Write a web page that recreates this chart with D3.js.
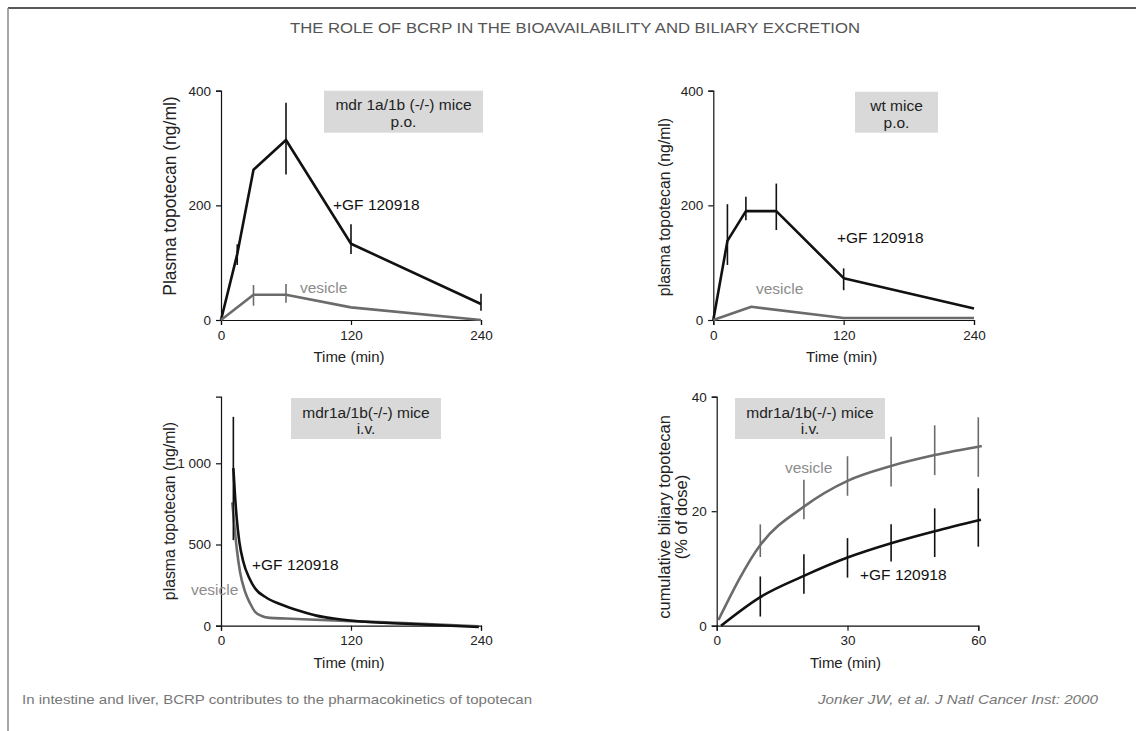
<!DOCTYPE html>
<html lang="en">
<head>
<meta charset="UTF-8">
<title>The role of BCRP</title>
<script src="https://cdn.jsdelivr.net/npm/d3@7"></script>
<style>
    body { margin: 0; background: #fff; }
    text { font-family: "Liberation Sans", Arial, Helvetica, sans-serif; }
    .tick text { font-size: 13.5px; fill: #222; }
    .axis path, .axis line { stroke: #111; }
    .axis-title { font-size: 15px; fill: #222; text-anchor: middle; }
    .box-text { font-size: 15.5px; fill: #222; text-anchor: middle; }
</style>
</head>
<body>
<div id="chart"></div>
<script>
// ---- data ----
// panel A: mdr 1a/1b (-/-) mice, p.o.
const aGfTime = [0, 15, 30, 60, 120, 240];
const aGfConc = [0, 115, 262, 314, 133, 28];
const aGfErrTime = [15, 60, 120, 240];
const aGfErrLo = [96, 254, 115, 16];
const aGfErrHi = [132, 379, 167, 46];
const aVesTime = [0, 30, 60, 120, 240];
const aVesConc = [0, 44, 44, 22, 0];
const aVesErrTime = [30, 60];
const aVesErrLo = [25, 30];
const aVesErrHi = [61, 63];

// panel B: wt mice, p.o.
const bGfTime = [0, 13, 30, 58, 120, 240];
const bGfConc = [0, 138, 190, 190, 73, 20];
const bGfErrTime = [13, 30, 58, 120];
const bGfErrLo = [96, 174, 157, 52];
const bGfErrHi = [202, 215, 238, 90];
const bVesTime = [0, 35, 120, 240];
const bVesConc = [0, 23, 3.5, 3.5];

// panel C: mdr1a/1b(-/-) mice, i.v.
const cGfTime = [11.4, 12.9, 14.5, 16.9, 20.6, 26.2, 31.4, 42, 55, 73, 88, 104, 119, 150, 180, 238];
const cGfConc = [970, 805, 662, 518, 394, 292, 230, 172, 132, 90, 62, 44, 32, 18, 9, -8];
const cGfErrTime = [11.4];
const cGfErrLo = [527];
const cGfErrHi = [1286];
const cVesTime = [10.4, 12.3, 14.5, 17.5, 22.2, 26.8, 31.4, 37.5, 45, 60, 120, 180, 238];
const cVesConc = [760, 620, 477, 333, 210, 138, 86, 60, 48, 44, 28, 14, -4];

// panel D: cumulative biliary excretion, mdr1a/1b(-/-) mice, i.v.
const dVesTime = [0.4, 10, 20, 30, 40, 50, 60.8];
const dVesCum = [1, 14.1, 20.8, 25.3, 27.9, 29.8, 31.4];
const dGfTime = [1, 10, 20, 30, 40, 50, 60.6];
const dGfCum = [0, 5, 8.7, 11.9, 14.4, 16.5, 18.5];
const dErrTime = [10, 20, 30, 40, 50, 60];
const dVesErrLo = [12.0, 18.6, 22.7, 24.3, 26.3, 26.0];
const dVesErrHi = [17.7, 25.5, 29.6, 33.0, 35.0, 36.4];
const dGfErrLo = [1.6, 5.6, 8.4, 11.2, 12.0, 13.8];
const dGfErrHi = [8.6, 12.5, 15.3, 17.7, 20.5, 24.0];

const timeTicks = [0, 120, 240];
const biliaryTimeTicks = [0, 30, 60];
const poTicks = [0, 200, 400];
const ivTicks = [0, 500, 1000];
const biliaryTicks = [0, 20, 40];

const BLACK = "#111";
const GREY = "#6b6b6b";
const GREY_TEXT = "#8c8c8c";

const svg = d3.select("#chart").append("svg")
    .attr("width", 1136)
    .attr("height", 731);

// frame
svg.append("line").attr("x1", 8).attr("y1", 8).attr("x2", 1136).attr("y2", 8)
    .attr("stroke", "#222").attr("stroke-width", 1.5);
svg.append("line").attr("x1", 8).attr("y1", 8).attr("x2", 8).attr("y2", 731)
    .attr("stroke", "#8a8a8a").attr("stroke-width", 1.5);

svg.append("text")
    .attr("x", 575).attr("y", 33)
    .attr("text-anchor", "middle")
    .attr("font-size", 14)
    .attr("fill", "#555")
    .attr("textLength", 570).attr("lengthAdjust", "spacingAndGlyphs")
    .text("THE ROLE OF BCRP IN THE BIOAVAILABILITY AND BILIARY EXCRETION");

svg.append("text")
    .attr("x", 22).attr("y", 704)
    .attr("font-size", 13).attr("fill", "#777")
    .attr("textLength", 510).attr("lengthAdjust", "spacingAndGlyphs")
    .text("In intestine and liver, BCRP contributes to the pharmacokinetics of topotecan");

svg.append("text")
    .attr("x", 1098).attr("y", 704)
    .attr("text-anchor", "end")
    .attr("font-size", 13).attr("fill", "#777")
    .attr("font-style", "italic")
    .attr("textLength", 280).attr("lengthAdjust", "spacingAndGlyphs")
    .text("Jonker JW, et al. J Natl Cancer Inst: 2000");

const zip = (ts, vs) => ts.map((t, i) => [t, vs[i]]);

function drawPanel(p) {
    const x = d3.scaleLinear().domain(p.xDomain).range([p.left, p.right]);
    const y = d3.scaleLinear().domain(p.yDomain).range([p.bottom, p.top]);
    const g = svg.append("g");

    g.append("g").attr("class", "axis")
        .attr("transform", `translate(0,${p.bottom})`)
        .call(d3.axisBottom(x).tickValues(p.xTicks).tickSize(5).tickSizeOuter(5).tickPadding(5));
    g.append("g").attr("class", "axis")
        .attr("transform", `translate(${p.left},0)`)
        .call(d3.axisLeft(y).tickValues(p.yTicks).tickSize(5).tickSizeOuter(5).tickPadding(5)
            .tickFormat(d => d >= 1000 ? d3.format(",")(d).replace(",", " ") : d));
    g.selectAll(".axis path").attr("stroke-width", 1.2);
    g.selectAll(".axis line").attr("stroke-width", 1.2);

    g.append("text").attr("class", "axis-title")
        .attr("x", (p.left + p.right) / 2 - 2).attr("y", p.bottom + 42)
        .text("Time (min)");

    p.yTitle.forEach((t, i) => {
        const tx = p.yTitleX + i * 17;
        g.append("text").attr("class", "axis-title")
            .attr("transform", `translate(${tx},${p.yTitleY}) rotate(-90)`)
            .style("font-size", p.yTitleSize + "px")
            .text(t);
    });

    // label box
    g.append("rect")
        .attr("x", p.box[0]).attr("y", p.box[1])
        .attr("width", p.box[2]).attr("height", p.box[3])
        .attr("fill", "#d9d9d9");
    p.boxText.forEach((t, i) => {
        g.append("text").attr("class", "box-text")
            .attr("x", p.box[0] + p.box[2] / 2)
            .attr("y", p.box[1] + 19.5 + i * 16.5)
            .text(t);
    });

    const line = d3.line().x(d => x(d[0])).y(d => y(d[1])).curve(p.curve);

    p.series.forEach(s => {
        g.append("path")
            .datum(zip(s.time, s.values))
            .attr("fill", "none")
            .attr("stroke", s.color)
            .attr("stroke-width", 2.6)
            .attr("stroke-linejoin", "round")
            .attr("d", line);
        if (s.errTime) {
            g.selectAll(null)
                .data(s.errTime.map((t, i) => [t, s.errLo[i], s.errHi[i]]))
                .join("line")
                .attr("x1", d => x(d[0])).attr("x2", d => x(d[0]))
                .attr("y1", d => y(d[1])).attr("y2", d => y(d[2]))
                .attr("stroke", s.color)
                .attr("stroke-width", 1.6);
        }
        g.append("text")
            .attr("x", s.labelPos[0]).attr("y", s.labelPos[1])
            .attr("font-size", 15.5)
            .attr("fill", s.color === BLACK ? "#111" : GREY_TEXT)
            .text(s.label);
    });
}

drawPanel({
    left: 221, right: 481, top: 90.7, bottom: 320,
    xDomain: [0, 240], yDomain: [0, 400],
    xTicks: timeTicks, yTicks: poTicks,
    yTitle: ["Plasma topotecan (ng/ml)"], yTitleX: 176, yTitleY: 196, yTitleSize: 17.5,
    box: [324, 90.7, 159, 42], boxText: ["mdr 1a/1b (-/-) mice", "p.o."],
    curve: d3.curveLinear,
    series: [
        { time: aGfTime, values: aGfConc, errTime: aGfErrTime, errLo: aGfErrLo, errHi: aGfErrHi,
          color: BLACK, label: "+GF 120918", labelPos: [333, 210] },
        { time: aVesTime, values: aVesConc, errTime: aVesErrTime, errLo: aVesErrLo, errHi: aVesErrHi,
          color: GREY, label: "vesicle", labelPos: [300, 293] }
    ]
});

drawPanel({
    left: 713.3, right: 974, top: 90.7, bottom: 320,
    xDomain: [0, 240], yDomain: [0, 400],
    xTicks: timeTicks, yTicks: poTicks,
    yTitle: ["plasma topotecan (ng/ml)"], yTitleX: 670, yTitleY: 207, yTitleSize: 15.8,
    box: [855, 91.7, 83, 41], boxText: ["wt mice", "p.o."],
    curve: d3.curveLinear,
    series: [
        { time: bGfTime, values: bGfConc, errTime: bGfErrTime, errLo: bGfErrLo, errHi: bGfErrHi,
          color: BLACK, label: "+GF 120918", labelPos: [837, 243] },
        { time: bVesTime, values: bVesConc,
          color: GREY, label: "vesicle", labelPos: [756, 294] }
    ]
});

drawPanel({
    left: 221, right: 481, top: 396.7, bottom: 625.7,
    xDomain: [0, 240], yDomain: [0, 1410],
    xTicks: timeTicks, yTicks: ivTicks,
    yTitle: ["plasma topotecan (ng/ml)"], yTitleX: 175, yTitleY: 511, yTitleSize: 15.8,
    box: [291, 398, 150, 41], boxText: ["mdr1a/1b(-/-) mice", "i.v."],
    curve: d3.curveMonotoneX,
    series: [
        { time: cVesTime, values: cVesConc,
          color: GREY, label: "vesicle", labelPos: [191, 595] },
        { time: cGfTime, values: cGfConc, errTime: cGfErrTime, errLo: cGfErrLo, errHi: cGfErrHi,
          color: BLACK, label: "+GF 120918", labelPos: [252, 570] }
    ]
});

drawPanel({
    left: 716.7, right: 978.3, top: 396.7, bottom: 625.7,
    xDomain: [0, 60], yDomain: [0, 40],
    xTicks: biliaryTimeTicks, yTicks: biliaryTicks,
    yTitle: ["cumulative biliary topotecan", "(% of dose)"], yTitleX: 670, yTitleY: 517, yTitleSize: 16.5,
    box: [735, 398, 150, 41], boxText: ["mdr1a/1b(-/-) mice", "i.v."],
    curve: d3.curveMonotoneX,
    series: [
        { time: dVesTime, values: dVesCum, errTime: dErrTime, errLo: dVesErrLo, errHi: dVesErrHi,
          color: GREY, label: "vesicle", labelPos: [785, 473] },
        { time: dGfTime, values: dGfCum, errTime: dErrTime, errLo: dGfErrLo, errHi: dGfErrHi,
          color: BLACK, label: "+GF 120918", labelPos: [860, 580] }
    ]
});
</script>
</body>
</html>
